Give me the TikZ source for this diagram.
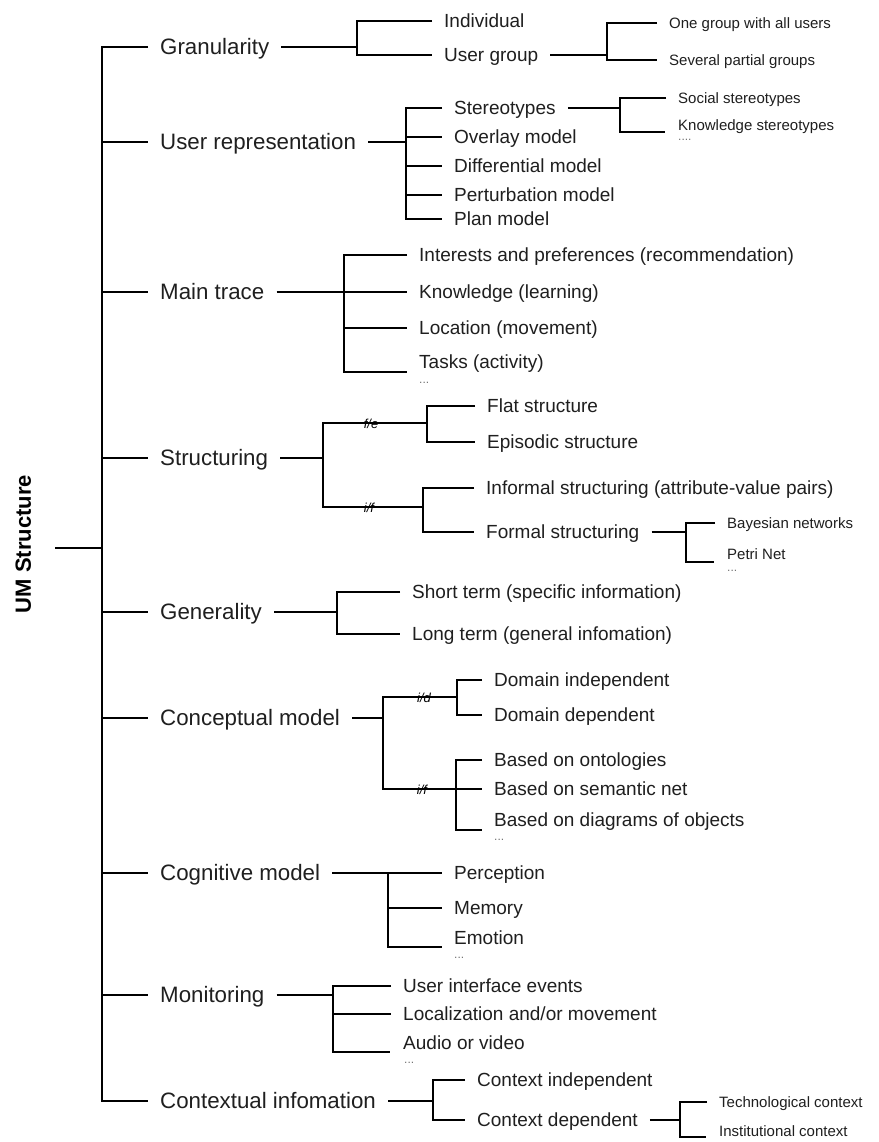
\documentclass[tikz,border=0pt]{standalone}
\usepackage{fontspec}
\setmainfont{Liberation Sans}
\begin{document}
\begin{tikzpicture}[x=1pt,y=-1pt,
  br/.style={line width=1.7pt},
  txt/.style={anchor=west, inner xsep=12pt, inner ysep=0pt, text depth=0pt, text=black!88},
  lvA/.style={txt, text height=15.6pt, font=\fontsize{22.3}{26}\selectfont},
  lvB/.style={txt, text height=13.4pt, font=\fontsize{19}{23}\selectfont},
  lvC/.style={txt, text height=10.6pt, font=\fontsize{15}{18}\selectfont},
  lbl/.style={inner sep=0pt, font=\itshape\fontsize{13}{15}\selectfont},
  etc/.style={anchor=base west, inner sep=0pt, font=\fontsize{12}{14}\selectfont, text=black!55},
  umstyle/.style={rotate=90, inner sep=0pt, text height=15.8pt, text depth=0pt, font=\bfseries\fontsize{22}{26}\selectfont}]
\useasboundingbox (0,0) rectangle (878,1142);
\fill[white] (0,0) rectangle (878,1142);

% root
\node[umstyle] (um) at (23,544) {UM Structure};
\coordinate (root) at (55,548);
\coordinate (sp) at (102,548);
\draw[br] (root) -- (sp);

% level 1
\node[lvA] (gran) at (148,47) {Granularity};
\node[lvA] (urep) at (148,142) {User representation};
\node[lvA] (mtr) at (148,292) {Main trace};
\node[lvA] (str) at (148,458) {Structuring};
\node[lvA] (gen) at (148,612) {Generality};
\node[lvA] (conc) at (148,718) {Conceptual model};
\node[lvA] (cogn) at (148,873) {Cognitive model};
\node[lvA] (mon) at (148,995) {Monitoring};
\node[lvA] (ctx) at (148,1101) {Contextual infomation};

\draw[br] (gran.west) -| (sp |- ctx.west) -- (ctx.west);
\foreach \n in {urep,mtr,str,gen,conc,cogn,mon} \draw[br] (sp |- \n.west) -- (\n.west);

% Granularity
\coordinate (jg) at (357,47);
\node[lvB] (ind) at (432,21) {Individual};
\node[lvB] (ug) at (432,55) {User group};
\draw[br] (gran.east) -- (jg);
\draw[br] (ind.west) -| (jg |- ug.west) -- (ug.west);
\coordinate (jug) at (607,55);
\node[lvC] (og) at (657,23) {One group with all users};
\node[lvC] (sg) at (657,60) {Several partial groups};
\draw[br] (ug.east) -- (jug);
\draw[br] (og.west) -| (jug |- sg.west) -- (sg.west);

% User representation
\coordinate (jur) at (406,142);
\node[lvB] (ster) at (442,108) {Stereotypes};
\node[lvB] (over) at (442,137) {Overlay model};
\node[lvB] (diffm) at (442,166) {Differential model};
\node[lvB] (pert) at (442,195) {Perturbation model};
\node[lvB] (plan) at (442,219) {Plan model};
\draw[br] (urep.east) -- (jur);
\draw[br] (ster.west) -| (jur |- plan.west) -- (plan.west);
\foreach \n in {over,diffm,pert} \draw[br] (jur |- \n.west) -- (\n.west);
\coordinate (jst) at (620,108);
\node[lvC] (soc) at (666,98) {Social stereotypes};
\node[lvC] (kst) at (666,125) {Knowledge stereotypes};
\coordinate (kstl) at (665,132);
\draw[br] (ster.east) -- (jst);
\draw[br] (soc.west) -| (jst |- kstl) -- (kstl);
\node[etc] (kdots) at (678,141) {....};

% Main trace
\coordinate (jmt) at (344,292);
\node[lvB] (intr) at (407,255) {Interests and preferences (recommendation)};
\node[lvB] (know) at (407,292) {Knowledge (learning)};
\node[lvB] (loc) at (407,328) {Location (movement)};
\node[lvB] (task) at (407,362) {Tasks (activity)};
\coordinate (taskl) at (407,372);
\draw[br] (mtr.east) -- (jmt);
\draw[br] (intr.west) -| (jmt |- taskl) -- (taskl);
\draw[br] (jmt) -- (know.west);
\draw[br] (jmt |- loc.west) -- (loc.west);
\node[etc] (mdots) at (419,383) {...};

% Structuring
\coordinate (jstr) at (323,458);
\coordinate (fe) at (427,423);
\coordinate (inf) at (423,507);
\draw[br] (str.east) -- (jstr);
\draw[br] (fe) -| (jstr |- inf) -- (inf);
\node[lbl] (lfe) at (371,424) {f/e};
\node[lbl] (lif) at (369,508) {i/f};
\node[lvB] (flat) at (475,406) {Flat structure};
\node[lvB] (epi) at (475,442) {Episodic structure};
\draw[br] (flat.west) -| (fe |- epi.west) -- (epi.west);
\node[lvB] (infs) at (474,488) {Informal structuring (attribute-value pairs)};
\node[lvB] (fors) at (474,532) {Formal structuring};
\draw[br] (infs.west) -| (inf |- fors.west) -- (fors.west);
\coordinate (jfs) at (686,532);
\node[lvC] (bay) at (715,523) {Bayesian networks};
\node[lvC] (petri) at (715,554) {Petri Net};
\coordinate (petril) at (714,562);
\draw[br] (fors.east) -- (jfs);
\draw[br] (bay.west) -| (jfs |- petril) -- (petril);
\node[etc] (pdots) at (727,571) {...};

% Generality
\coordinate (jgen) at (337,612);
\node[lvB] (sht) at (400,592) {Short term (specific information)};
\node[lvB] (lng) at (400,634) {Long term (general infomation)};
\draw[br] (gen.east) -- (jgen);
\draw[br] (sht.west) -| (jgen |- lng.west) -- (lng.west);

% Conceptual model
\coordinate (jco) at (383,718);
\coordinate (idj) at (457,697);
\coordinate (ifj) at (456,789);
\draw[br] (conc.east) -- (jco);
\draw[br] (idj) -| (jco |- ifj) -- (ifj);
\node[lbl] (lid) at (424,698) {i/d};
\node[lbl] (lif2) at (422,790) {i/f};
\node[lvB] (dind) at (482,680) {Domain independent};
\node[lvB] (ddep) at (482,715) {Domain dependent};
\draw[br] (dind.west) -| (idj |- ddep.west) -- (ddep.west);
\node[lvB] (bont) at (482,760) {Based on ontologies};
\node[lvB] (bsem) at (482,789) {Based on semantic net};
\node[lvB] (bdia) at (482,820) {Based on diagrams of objects};
\coordinate (bdial) at (482,830);
\draw[br] (bont.west) -| (ifj |- bdial) -- (bdial);
\draw[br] (ifj) -- (bsem.west);
\node[etc] (bdots) at (494,840) {...};

% Cognitive model
\coordinate (jcg) at (388,873);
\node[lvB] (perc) at (442,873) {Perception};
\node[lvB] (mem) at (442,908) {Memory};
\node[lvB] (emo) at (442,938) {Emotion};
\coordinate (emol) at (442,947);
\draw[br] (cogn.east) -- (perc.west);
\draw[br] (jcg) |- (emol);
\draw[br] (jcg |- mem.west) -- (mem.west);
\node[etc] (edots) at (454,958) {...};

% Monitoring
\coordinate (jmo) at (333,995);
\node[lvB] (uie) at (391,986) {User interface events};
\node[lvB] (lam) at (391,1014) {Localization and/or movement};
\node[lvB] (aov) at (391,1043) {Audio or video};
\coordinate (aovl) at (390,1052);
\draw[br] (mon.east) -- (jmo);
\draw[br] (uie.west) -| (jmo |- aovl) -- (aovl);
\draw[br] (jmo |- lam.west) -- (lam.west);
\node[etc] (adots) at (404,1063) {...};

% Contextual information
\coordinate (jcx) at (433,1101);
\node[lvB] (cind) at (465,1080) {Context independent};
\node[lvB] (cdep) at (465,1120) {Context dependent};
\draw[br] (ctx.east) -- (jcx);
\draw[br] (cind.west) -| (jcx |- cdep.west) -- (cdep.west);
\coordinate (jcd) at (680,1120);
\node[lvC] (tech) at (707,1102) {Technological context};
\node[lvC] (inst) at (707,1131) {Institutional context};
\coordinate (instl) at (706,1137);
\draw[br] (cdep.east) -- (jcd);
\draw[br] (tech.west) -| (jcd |- instl) -- (instl);
\end{tikzpicture}
\end{document}
